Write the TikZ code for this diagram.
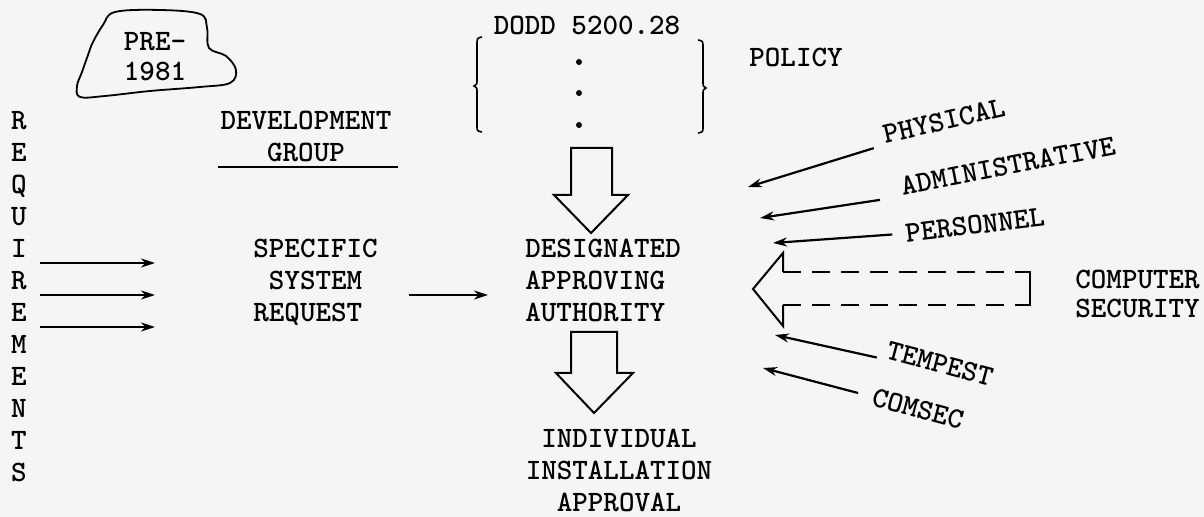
\documentclass[tikz,border=0pt]{standalone}
\usetikzlibrary{arrows.meta}
\begin{document}
\begin{tikzpicture}[x=0.5pt,y=-0.5pt,
    tw/.style={font=\fontsize{14.8}{16}\selectfont\ttfamily\bfseries, inner sep=0pt},
    arr/.style={line width=1.1pt, -{Stealth[length=7pt,width=4.5pt]}},
    blk/.style={line width=1pt, line join=miter}]
    % Page
    \fill[black!4] (0,0) rectangle (1204,517);
    \useasboundingbox (0,0) rectangle (1204,517);

    % Cloud
    \draw[line width=0.9pt] plot[smooth cycle, tension=0.6] coordinates {(115,12) (160,10) (200,14) (207,28) (209,48) (226,56) (236,70) (230,83) (200,87) (150,91) (105,96) (80,97) (77,86) (82,72) (88,55) (93,42) (103,25)};
    \node[tw, font=\fontsize{14.8}{15}\selectfont\ttfamily\bfseries, anchor=north, align=center] (pre) at (155,32) {PRE-\\1981};

    % Requirements
    \node[tw, anchor=north, align=center] (req) at (19,111) {R\\E\\Q\\U\\I\\R\\E\\M\\E\\N\\T\\S};
    \foreach \y [count=\i] in {263,295,327} {
        \coordinate (rqa\i) at (40,\y);
        \coordinate (rqb\i) at (155,\y);
        \draw[arr] (rqa\i) -- (rqb\i);
    }

    % Development group
    \node[tw, anchor=north, align=center] (dev) at (306,111) {DEVELOPMENT\\GROUP};
    \draw[line width=1pt] (218,167) -- (398,167);

    % Specific system request
    \node[tw, anchor=north west, align=left] (ssr) at (253,239) {SPECIFIC\\\hphantom{S}SYSTEM\\REQUEST};
    \coordinate (ssra) at (409,295);
    \coordinate (ssrb) at (488,295);
    \draw[arr] (ssra) -- (ssrb);

    % Policy
    \node[tw] (dodd) at (587,25) {DODD 5200.28};
    \foreach \y in {62,93,125}
        \fill (579,\y) circle[radius=1.5pt];
    \node[tw, anchor=west] (policy) at (749,57) {POLICY};
    \draw[line width=0.8pt] (482,37) .. controls (477,38) .. (477,45) -- (477,80)
        .. controls (477,84) .. (474,86) .. controls (477,88) .. (477,92) -- (477,126)
        .. controls (477,131) .. (482,132);
    \draw[line width=0.8pt] (698,40) .. controls (703,41) .. (703,48) -- (703,82)
        .. controls (703,86) .. (706,88) .. controls (703,90) .. (703,94) -- (703,127)
        .. controls (703,132) .. (698,133);
    \draw[blk] (571,148) -- (612,148) -- (612,195) -- (628,195) -- (591,233) -- (554,195) -- (571,195) -- cycle;

    % Designated approving authority
    \node[tw, anchor=north west, align=left] (daa) at (525,239) {DESIGNATED\\APPROVING\\AUTHORITY};
    \draw[blk] (571,332) -- (617,332) -- (617,373) -- (633,373) -- (594,413) -- (556,373) -- (571,373) -- cycle;
    \node[tw, anchor=north, align=center] (iia) at (619,429) {INDIVIDUAL\\INSTALLATION\\APPROVAL};

    % Disciplines
    \node[tw, rotate=13] (phys) at (944,121) {PHYSICAL};
    \node[tw, rotate=11] (admin) at (1008,166) {ADMINISTRATIVE};
    \node[tw, rotate=7] (pers) at (975,225) {PERSONNEL};
    \node[tw, rotate=-15] (temp) at (940,364) {TEMPEST};
    \node[tw, rotate=-15] (coms) at (918,409) {COMSEC};
    \node[tw, font=\fontsize{14.8}{14.5}\selectfont\ttfamily\bfseries, anchor=north west, align=left] (cs) at (1075,270) {COMPUTER\\SECURITY};

    \coordinate (physT) at (748,187);
    \coordinate (adminT) at (760,218);
    \coordinate (persT) at (773,243);
    \coordinate (tempT) at (775,335);
    \coordinate (comsT) at (763,368);
    \draw[arr, shorten <=6pt] (phys.south west) -- (physT);
    \draw[arr, shorten <=11.5pt] (admin.south west) -- (adminT);
    \draw[arr, shorten <=6.5pt] (pers.west) -- (persT);
    \draw[arr, shorten <=4pt] (temp.south west) -- (tempT);
    \draw[arr, shorten <=7.5pt] (coms.west) -- (comsT);

    % Computer security arrow
    \draw[blk] (783,272) -- (783,253) -- (753,289) -- (783,326) -- (783,305);
    \draw[line width=0.8pt, dash pattern=on 9pt off 5.5pt] (783,272) -- (1030,272);
    \draw[line width=0.8pt, dash pattern=on 9pt off 5.5pt] (783,305) -- (1030,305);
    \draw[line width=1pt] (1022,272) -- (1030,272) -- (1030,305) -- (1022,305);
\end{tikzpicture}
\end{document}
